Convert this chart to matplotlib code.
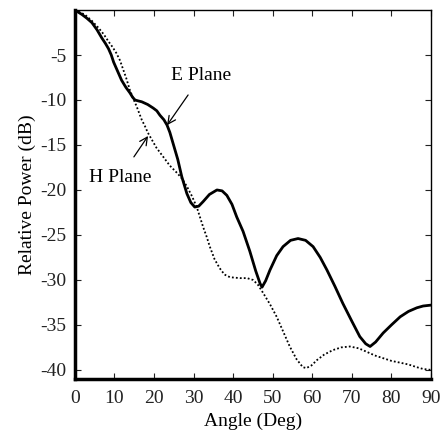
import matplotlib.pyplot as plt

# E plane (solid)
e_angle = [0, 1.8, 3.0, 4.3, 5.6, 6.8, 7.7, 8.5, 9.2, 9.8, 10.8, 11.8, 12.9,
           13.9, 14.6, 15.2, 16.0, 16.9, 18.4, 19.8, 20.7, 21.5, 22.5, 23.3,
           24.0, 24.8, 26.0, 27.0, 28.3, 29.3, 30.3, 31.3, 32.4, 34.0, 35.9,
           37.2, 38.4, 39.7, 40.9, 42.5, 44.2, 45.7, 46.8, 47.3, 48.2, 49.3,
           51.0, 52.6, 54.5, 56.4, 58.3, 60.2, 62.0, 63.7, 65.7, 67.7, 70.0,
           72.0, 73.5, 74.6, 76.0, 77.9, 80.0, 82.2, 84.3, 86.4, 88.0, 90.0]
e_power = [0, -0.5, -0.9, -1.4, -2.2, -3.1, -3.7, -4.3, -5.0, -5.8, -6.8, -7.8,
           -8.6, -9.2, -9.7, -10.0, -10.1, -10.2, -10.5, -10.9, -11.2, -11.7,
           -12.2, -12.8, -13.6, -14.8, -16.6, -18.5, -20.4, -21.4, -21.9, -21.8,
           -21.3, -20.5, -20.0, -20.1, -20.6, -21.6, -23.0, -24.6, -26.8, -29.0,
           -30.4, -30.8, -30.1, -28.9, -27.3, -26.3, -25.6, -25.4, -25.6, -26.3,
           -27.5, -28.9, -30.7, -32.6, -34.6, -36.3, -37.1, -37.4, -36.9, -35.9,
           -35.0, -34.1, -33.5, -33.1, -32.9, -32.8]

# H plane (dotted)
h_angle = [0, 2.5, 4.3, 6.0, 7.3, 8.5, 9.5, 10.5, 11.4, 12.2, 13.0, 13.9, 14.8,
           15.6, 16.2, 16.9, 17.7, 18.4, 19.3, 20.6, 22.3, 24.0, 25.8, 27.0,
           28.3, 29.6, 30.8, 31.6, 32.4, 33.3, 34.1, 35.3, 36.6, 37.8, 39.2,
           41.7, 43.5, 45.0, 46.2, 47.5, 49.3, 51.0, 52.7, 54.3, 56.0, 57.6,
           58.5, 59.8, 61.2, 63.0, 65.2, 67.3, 69.5, 71.7, 73.8, 75.8, 77.9,
           80.0, 82.2, 84.3, 86.4, 88.0, 90.0]
h_power = [0, -0.5, -1.2, -2.0, -2.7, -3.5, -4.1, -4.8, -5.6, -6.6, -7.6, -8.9,
           -9.9, -10.7, -11.4, -12.2, -12.9, -13.6, -14.3, -15.3, -16.3, -17.3,
           -18.1, -18.7, -19.6, -20.7, -21.9, -23.0, -24.1, -25.2, -26.3, -27.7,
           -28.7, -29.4, -29.7, -29.8, -29.8, -30.0, -30.5, -31.4, -32.7, -34.1,
           -35.8, -37.4, -38.8, -39.7, -39.8, -39.5, -38.9, -38.3, -37.8, -37.5,
           -37.4, -37.6, -38.0, -38.4, -38.7, -39.0, -39.2, -39.4, -39.7, -39.9,
           -40.0]

plt.rcParams['font.family'] = ['Liberation Serif', 'DejaVu Serif']
plt.rcParams['font.size'] = 14
plt.rcParams['axes.unicode_minus'] = False

fig = plt.figure(figsize=(4.43, 4.36), dpi=100)
ax = fig.add_axes([0.169, 0.131, 0.804, 0.846])

ax.plot(e_angle, e_power, c='k', lw=2.0)
ax.plot(h_angle, h_power, c='k', lw=1.3, ls=(0, (1, 1.2)))

ax.set_xlim(0, 90)
ax.set_ylim(-41, 0)
ax.set_xticks(range(0, 91, 10))
ax.set_yticks(range(-40, 0, 5))
ax.set_xlabel("Angle (Deg)", labelpad=4)
ax.set_ylabel("Relative Power (dB)", labelpad=3)
ax.tick_params(direction='in', top=True, right=True, length=4, width=0.8,
               colors='#222222', labelcolor='#222222')
ax.tick_params(axis='x', pad=8)
ax.tick_params(axis='y', pad=6)

for side in ['left', 'bottom']:
    ax.spines[side].set_linewidth(2.5)
for side in ['top', 'right']:
    ax.spines[side].set_linewidth(1.0)

ax.annotate("E Plane", xy=(23.3, -12.8), xytext=(32.0, -7.3),
            ha='center', va='center',
            arrowprops=dict(arrowstyle='->', color='k', lw=0.9,
                            shrinkA=7, shrinkB=0))
ax.annotate("H Plane", xy=(18.5, -14.0), xytext=(11.4, -18.6),
            ha='center', va='center',
            arrowprops=dict(arrowstyle='->', color='k', lw=0.9,
                            shrinkA=8, shrinkB=0))

plt.savefig("out.png")
